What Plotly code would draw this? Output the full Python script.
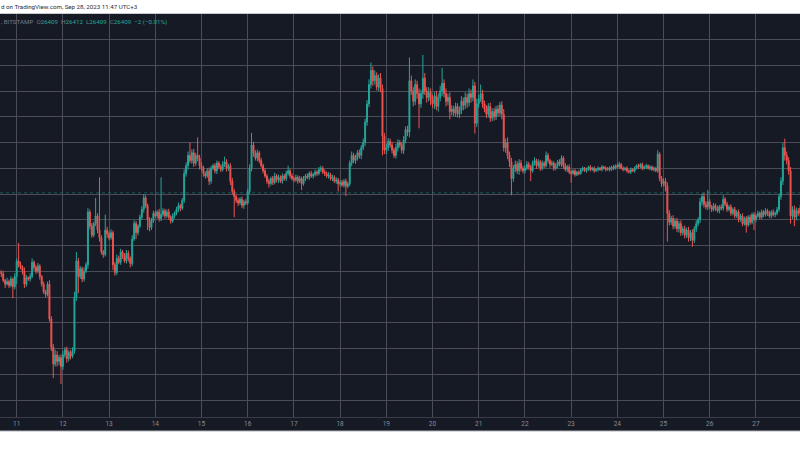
import plotly.graph_objects as go
from datetime import datetime, timedelta

# Hourly candles, Sep 10 15:00 -> Sep 27 23:00 (chart time, UTC+3)
first_open = 25810
close_days = [
    [25790, 25780, 25730, 25700, 25720, 25690, 25740, 25680, 25760],
    [25880, 25850, 25830, 25800, 25700, 25750, 25740, 25760, 25870, 25830, 25800, 25840, 25760, 25700, 25640, 25620, 25700, 25430, 25210, 25080, 25150, 25100, 25130, 25060],
    [25150, 25190, 25120, 25170, 25140, 25180, 25600, 25880, 25760, 25820, 25740, 25800, 25850, 26260, 26150, 26080, 26170, 26230, 26120, 26060, 25950, 25930, 26120, 26090],
    [26060, 26100, 25850, 25790, 25900, 25870, 25950, 25920, 25880, 25940, 25900, 25860, 26050, 26170, 26100, 26150, 26220, 26280, 26370, 26310, 26200, 26140, 26190, 26250],
    [26230, 26260, 26210, 26240, 26270, 26230, 26260, 26220, 26190, 26230, 26250, 26280, 26310, 26290, 26350, 26560, 26620, 26700, 26660, 26720, 26640, 26700, 26680, 26620],
    [26600, 26560, 26540, 26580, 26500, 26600, 26620, 26580, 26640, 26610, 26590, 26630, 26650, 26600, 26620, 26500, 26420, 26380, 26350, 26330, 26360, 26310, 26340, 26330],
    [26420, 26600, 26780, 26720, 26680, 26720, 26660, 26620, 26580, 26540, 26500, 26480, 26520, 26490, 26540, 26510, 26530, 26500, 26540, 26520, 26560, 26580, 26540, 26520],
    [26510, 26530, 26500, 26520, 26480, 26520, 26540, 26530, 26560, 26540, 26550, 26570, 26560, 26590, 26600, 26570, 26560, 26540, 26550, 26520, 26530, 26500, 26510, 26480],
    [26490, 26470, 26500, 26460, 26480, 26640, 26700, 26660, 26680, 26720, 26700, 26760, 26800, 26960, 27100, 27250, 27360, 27280, 27320, 27230, 27300, 27220, 26850, 26740],
    [26760, 26810, 26780, 26740, 26700, 26760, 26800, 26780, 26740, 26820, 26900, 26880, 27280, 27200, 27120, 27250, 27180, 27100, 27180, 27300, 27200, 27150, 27190, 27130],
    [27100, 27160, 27080, 27150, 27200, 27260, 27180, 27120, 27150, 27040, 27060, 27030, 27080, 27020, 27050, 27120, 27090, 27150, 27110, 27180, 27150, 27240, 26950, 27100],
    [27140, 27180, 27100, 27060, 27020, 27080, 26990, 27040, 27000, 27060, 27030, 27090, 27020, 26760, 26800, 26700, 26650, 26520, 26600, 26630, 26580, 26640, 26600, 26580],
    [26600, 26630, 26610, 26580, 26640, 26660, 26620, 26650, 26600, 26640, 26620, 26700, 26660, 26630, 26640, 26600, 26620, 26650, 26630, 26680, 26620, 26590, 26610, 26570],
    [26560, 26580, 26550, 26570, 26560, 26590, 26600, 26580, 26590, 26610, 26590, 26600, 26580, 26590, 26600, 26590, 26610, 26600, 26590, 26600, 26590, 26610, 26600, 26620],
    [26610, 26630, 26600, 26590, 26600, 26580, 26570, 26590, 26580, 26600, 26620, 26610, 26630, 26600, 26610, 26620, 26600, 26610, 26590, 26600, 26580, 26710, 26520, 26480],
    [26500, 26460, 26250, 26180, 26210, 26150, 26190, 26130, 26170, 26100, 26130, 26080, 26120, 26060, 26100, 26040, 26130, 26170, 26200, 26340, 26380, 26320, 26300, 26340],
    [26300, 26280, 26310, 26290, 26270, 26300, 26290, 26360, 26320, 26280, 26300, 26250, 26280, 26230, 26260, 26200, 26230, 26170, 26210, 26160, 26220, 26180, 26240, 26200],
    [26230, 26250, 26220, 26260, 26240, 26270, 26250, 26230, 26260, 26240, 26250, 26280, 26380, 26500, 26760, 26700, 26660, 26580, 26230, 26280, 26220, 26270, 26250, 26290],
]
# upper / lower wick lengths (USD) read per candle
up_wick_days = [
    [20, 15, 25, 10, 30, 15, 20, 10, 25],
    [20, 140, 25, 15, 30, 20, 10, 25, 30, 15, 20, 25, 15, 10, 20, 15, 20, 30, 20, 25, 40, 30, 20, 25],
    [30, 20, 25, 15, 20, 30, 40, 70, 25, 20, 15, 30, 20, 30, 20, 25, 15, 140, 20, 410, 20, 15, 120, 25],
    [20, 25, 15, 20, 30, 20, 25, 15, 20, 25, 20, 15, 30, 25, 20, 15, 20, 25, 30, 20, 15, 20, 25, 20],
    [20, 15, 25, 290, 20, 15, 20, 25, 15, 20, 15, 20, 25, 15, 20, 30, 25, 30, 100, 25, 30, 20, 140, 25],
    [25, 20, 15, 20, 25, 20, 15, 20, 20, 15, 20, 25, 40, 20, 15, 20, 25, 20, 15, 20, 15, 20, 15, 20],
    [20, 30, 95, 25, 20, 25, 15, 20, 15, 20, 15, 20, 15, 20, 25, 15, 20, 15, 20, 15, 20, 40, 15, 20],
    [15, 20, 15, 20, 15, 20, 15, 20, 15, 20, 15, 20, 15, 20, 20, 15, 20, 15, 20, 15, 20, 15, 20, 15],
    [15, 20, 15, 20, 15, 20, 30, 20, 25, 20, 25, 20, 30, 25, 30, 40, 60, 30, 40, 25, 30, 40, 30, 25],
    [30, 25, 20, 25, 20, 30, 25, 20, 25, 30, 25, 30, 180, 40, 30, 40, 30, 40, 30, 180, 40, 30, 40, 30],
    [40, 30, 40, 30, 40, 120, 30, 40, 30, 40, 30, 25, 30, 25, 30, 40, 30, 40, 30, 40, 30, 50, 30, 40],
    [30, 70, 30, 25, 30, 25, 30, 25, 30, 25, 30, 25, 30, 40, 30, 40, 30, 30, 25, 30, 25, 30, 25, 20],
    [20, 25, 20, 15, 20, 25, 15, 20, 15, 20, 15, 30, 20, 15, 20, 15, 20, 15, 20, 20, 15, 20, 15, 20],
    [15, 10, 15, 10, 15, 10, 15, 10, 15, 10, 15, 10, 15, 10, 15, 10, 15, 10, 15, 10, 15, 10, 15, 10],
    [15, 20, 10, 15, 10, 15, 10, 15, 10, 15, 10, 15, 10, 15, 10, 15, 10, 15, 10, 15, 10, 30, 15, 20],
    [20, 25, 30, 25, 20, 25, 20, 25, 20, 25, 20, 25, 20, 25, 20, 25, 20, 25, 20, 30, 25, 30, 25, 90],
    [20, 15, 20, 15, 20, 15, 20, 30, 15, 20, 15, 20, 15, 20, 15, 20, 15, 20, 15, 20, 15, 20, 15, 20],
    [15, 20, 15, 20, 15, 20, 15, 20, 15, 20, 15, 20, 25, 30, 40, 70, 30, 25, 30, 25, 30, 25, 20, 25],
]
down_wick_days = [
    [20, 25, 15, 30, 10, 20, 15, 90, 20],
    [60, 20, 15, 25, 30, 20, 15, 20, 15, 25, 20, 15, 25, 20, 15, 20, 15, 20, 30, 110, 20, 40, 30, 135],
    [25, 20, 30, 20, 25, 15, 20, 30, 130, 20, 25, 20, 15, 30, 25, 20, 15, 20, 25, 30, 20, 25, 15, 30],
    [20, 15, 40, 25, 20, 15, 20, 25, 15, 20, 25, 30, 20, 15, 50, 20, 15, 20, 25, 20, 80, 30, 20, 15],
    [15, 20, 25, 20, 15, 20, 15, 20, 20, 15, 20, 15, 20, 25, 15, 20, 25, 30, 20, 25, 30, 20, 25, 30],
    [20, 25, 20, 15, 30, 20, 15, 20, 25, 15, 20, 15, 20, 25, 20, 30, 25, 160, 20, 25, 15, 20, 25, 15],
    [15, 20, 25, 30, 20, 25, 20, 15, 20, 15, 20, 30, 15, 20, 15, 20, 25, 15, 20, 15, 20, 15, 20, 15],
    [20, 15, 20, 15, 50, 15, 20, 15, 20, 15, 20, 15, 20, 15, 20, 15, 20, 15, 20, 15, 20, 15, 20, 60],
    [20, 15, 20, 75, 15, 20, 25, 20, 25, 20, 25, 30, 20, 25, 30, 25, 30, 40, 30, 25, 30, 30, 150, 30],
    [30, 25, 20, 25, 20, 25, 30, 20, 25, 30, 25, 30, 40, 30, 40, 30, 40, 190, 30, 40, 30, 40, 30, 40],
    [30, 40, 30, 40, 30, 40, 30, 40, 30, 60, 30, 25, 30, 25, 30, 30, 40, 30, 40, 30, 40, 30, 80, 30],
    [30, 25, 30, 25, 30, 25, 30, 25, 30, 25, 30, 25, 40, 30, 40, 30, 40, 130, 25, 30, 25, 30, 25, 20],
    [20, 15, 20, 80, 15, 20, 25, 15, 20, 15, 20, 15, 20, 25, 15, 20, 15, 20, 15, 20, 25, 15, 20, 15],
    [70, 10, 15, 10, 15, 10, 15, 10, 15, 10, 15, 10, 15, 10, 15, 10, 15, 10, 15, 10, 15, 10, 15, 10],
    [10, 15, 10, 15, 10, 15, 10, 15, 10, 15, 10, 15, 10, 15, 10, 15, 10, 15, 10, 15, 10, 15, 20, 25],
    [20, 40, 220, 25, 20, 25, 20, 25, 30, 25, 20, 25, 20, 30, 25, 50, 20, 25, 20, 25, 30, 25, 20, 25],
    [15, 20, 15, 20, 15, 20, 15, 20, 15, 20, 15, 20, 15, 20, 15, 20, 15, 20, 15, 60, 15, 20, 15, 80],
    [20, 15, 20, 15, 20, 15, 20, 15, 20, 15, 20, 15, 20, 25, 30, 40, 30, 30, 60, 25, 70, 25, 20, 25],
]
day_labels = ["11", "12", "13", "14", "15", "16", "17", "18", "19", "20",
              "21", "22", "23", "24", "25", "26", "27"]
last_price = 26409
y_range = [24668, 27802]
x_range = [datetime(2023, 9, 10, 15, 19, 30), datetime(2023, 9, 27, 22, 54)]

for a, b, c in zip(close_days, up_wick_days, down_wick_days):
    assert len(a) == len(b) == len(c), (len(a), len(b), len(c))

closes = [v for d in close_days for v in d]
upw = [v for d in up_wick_days for v in d]
dnw = [v for d in down_wick_days for v in d]
opens = [first_open] + closes[:-1]
highs = [max(o, c) + u for o, c, u in zip(opens, closes, upw)]
lows = [min(o, c) - w for o, c, w in zip(opens, closes, dnw)]
t0 = datetime(2023, 9, 10, 15, 0)
times = [t0 + timedelta(hours=i) for i in range(len(closes))]

UP = "#26a69a"
DOWN = "#ef5350"
BG = "#161a25"
GRID = "#4a4d57"

fig = go.Figure()
fig.add_trace(go.Candlestick(
    x=times, open=opens, high=highs, low=lows, close=closes,
    increasing=dict(line=dict(color=UP, width=1), fillcolor=UP),
    decreasing=dict(line=dict(color=DOWN, width=1), fillcolor=DOWN),
    whiskerwidth=0, showlegend=False, hoverinfo="skip",
))

H = 450.0
y_bottom_px = 417
y_top_px = 13.5
fig.update_layout(
    width=800, height=450,
    margin=dict(l=0, r=0, t=0, b=0),
    paper_bgcolor="white", plot_bgcolor=BG,
    showlegend=False,
    xaxis=dict(
        domain=[0, 1], range=x_range, rangeslider=dict(visible=False),
        showgrid=True, gridcolor=GRID, gridwidth=1,
        tickvals=[datetime(2023, 9, 11 + i) for i in range(len(day_labels))],
        ticktext=day_labels, ticks="",
        tickfont=dict(family="Roboto, sans-serif", size=6.5, color="#8a8d96"),
        showline=True, linecolor="#3a3d47", linewidth=1,
        zeroline=False, fixedrange=True, automargin=False,
    ),
    yaxis=dict(
        domain=[(H - y_bottom_px) / H, (H - y_top_px) / H],
        range=y_range, dtick=200, tick0=0,
        showgrid=True, gridcolor=GRID, gridwidth=1,
        showticklabels=False, zeroline=False, ticks="", automargin=False,
    ),
)

# x-axis band below plot and borders
fig.add_shape(type="rect", xref="paper", yref="paper", x0=0, x1=1,
              y0=(H - 431) / H, y1=(H - y_bottom_px) / H,
              fillcolor=BG, line=dict(width=0), layer="below")
fig.add_shape(type="line", xref="paper", yref="paper", x0=0, x1=1,
              y0=(H - 431) / H, y1=(H - 431) / H,
              line=dict(color="#b0b3ba", width=1))
fig.add_shape(type="line", xref="paper", yref="paper", x0=0, x1=1,
              y0=(H - 13.5) / H, y1=(H - 13.5) / H,
              line=dict(color="#c8cad0", width=1))
# last price dotted line
fig.add_shape(type="line", xref="paper", yref="y", x0=0, x1=1,
              y0=last_price, y1=last_price,
              line=dict(color="rgba(38,166,154,0.45)", width=1, dash="dot"))

fig.add_annotation(
    xref="paper", yref="paper", x=0, y=(H - 7) / H, xanchor="left", yanchor="middle",
    text="d on TradingView.com, Sep 28, 2023 11:47 UTC+3", showarrow=False,
    font=dict(family="Roboto, sans-serif", size=6.2, color="#2a2e39"), borderpad=0,
)
val = lambda s: "<span style='color:#26a69a'>" + s + "</span>"
fig.add_annotation(
    xref="paper", yref="paper", x=0, y=(H - 22) / H, xanchor="left", yanchor="middle",
    text=", BITSTAMP  O" + val("26409") + "  H" + val("26412") + "  L" + val("26409")
         + "  C" + val("26409") + "  " + val("−2 (−0.01%)"),
    showarrow=False, borderpad=0,
    font=dict(family="Roboto, sans-serif", size=6.2, color="#787b86"),
)

fig.write_html(
    "out.html",
    config={"displayModeBar": False, "staticPlot": True},
    post_script="document.body.style.margin='0';document.body.style.padding='0';",
)
